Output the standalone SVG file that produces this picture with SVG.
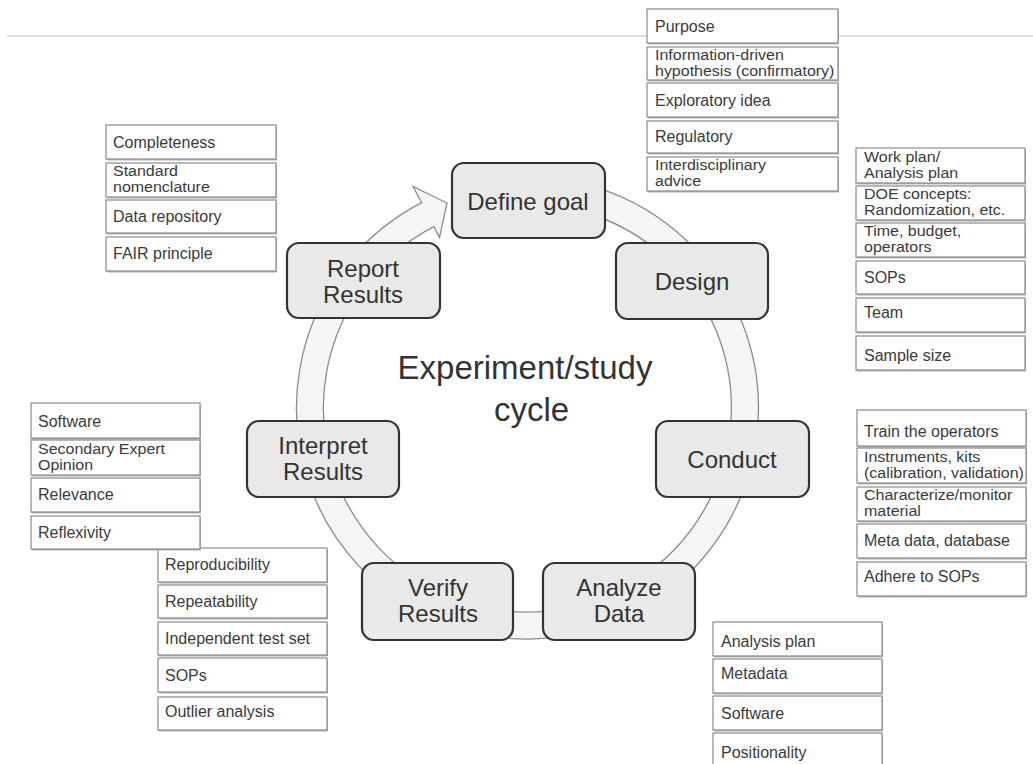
<svg xmlns="http://www.w3.org/2000/svg" width="1033" height="764" viewBox="0 0 1033 764">
<style>
.node rect{fill:#e9e9e9;stroke:#333;stroke-width:2.2}
.node text{font-family:"Liberation Sans",Arial,sans-serif;font-size:24px;fill:#333;text-anchor:middle}
.sb .sh{fill:#b3b3b3}
.sb .bx{fill:#fff;stroke:#8a8a8a;stroke-width:1.2}
.sb text{font-family:"Liberation Sans",Arial,sans-serif;font-size:16px;fill:#3a3a3a}
.sb text.two{font-size:14px}
.title{font-family:"Liberation Sans",Arial,sans-serif;font-size:33px;fill:#333}
</style>
<rect width="1033" height="764" fill="#fff"/>
<line x1="7" y1="36" x2="1033" y2="36" stroke="#bdbdbd" stroke-width="1.2"/>

<g id="connectors">
<path d="M 587.3 184.9 A 231 231 0 1 1 421.6 202.7 L 413 186.5 L 447 203 L 439.5 237.5 L 433.9 226.7 A 204 204 0 1 0 580.3 211 Z" fill="#f5f5f5" stroke="#8c8c8c" stroke-width="1.3"/>
</g>

<text class="title" x="525" y="379" text-anchor="middle">Experiment/study</text>
<text class="title" x="494" y="421">cycle</text>

<g id="node-define-goal" class="node"><rect x="452" y="163" width="153" height="75" rx="12"/><text x="528" y="210">Define goal</text></g>
<g id="node-design" class="node"><rect x="616" y="243" width="152" height="76" rx="12"/><text x="692" y="290">Design</text></g>
<g id="node-conduct" class="node"><rect x="656" y="421" width="153" height="76" rx="12"/><text x="732" y="468">Conduct</text></g>
<g id="node-analyze-data" class="node"><rect x="543" y="563" width="152" height="77" rx="12"/><text x="619" y="596">Analyze</text><text x="619" y="622">Data</text></g>
<g id="node-verify-results" class="node"><rect x="362" y="563" width="151" height="77" rx="12"/><text x="438" y="596">Verify</text><text x="438" y="622">Results</text></g>
<g id="node-interpret-results" class="node"><rect x="247" y="421" width="152" height="76" rx="12"/><text x="323" y="454">Interpret</text><text x="323" y="480">Results</text></g>
<g id="node-report-results" class="node"><rect x="287" y="243" width="153" height="75" rx="12"/><text x="363" y="277">Report</text><text x="363" y="303">Results</text></g>

<!-- Define goal details -->
<g id="dg-purpose" class="sb"><rect class="sh" x="648" y="10.5" width="191" height="34"/><rect class="bx" x="647" y="9" width="191" height="34"/><text x="655" y="32">Purpose</text></g>
<g id="dg-info" class="sb"><rect class="sh" x="648" y="48.5" width="191" height="33"/><rect class="bx" x="647" y="47" width="191" height="33"/><g transform="matrix(1.143 0 0 1 -93.67 0)"><text class="two" x="655" y="60">Information-driven</text><text class="two" x="655" y="76">hypothesis (confirmatory)</text></g></g>
<g id="dg-explor" class="sb"><rect class="sh" x="648" y="84.5" width="191" height="34"/><rect class="bx" x="647" y="83" width="191" height="34"/><text x="655" y="106">Exploratory idea</text></g>
<g id="dg-regul" class="sb"><rect class="sh" x="648" y="122.5" width="191" height="32"/><rect class="bx" x="647" y="121" width="191" height="32"/><text x="655" y="142">Regulatory</text></g>
<g id="dg-interdis" class="sb"><rect class="sh" x="648" y="158.5" width="191" height="34"/><rect class="bx" x="647" y="157" width="191" height="34"/><g transform="matrix(1.143 0 0 1 -93.67 0)"><text class="two" x="655" y="170.5">Interdisciplinary</text><text class="two" x="655" y="186.5">advice</text></g></g>

<!-- Design details -->
<g id="ds-workplan" class="sb"><rect class="sh" x="857" y="149.5" width="169" height="35"/><rect class="bx" x="856" y="148" width="169" height="35"/><g transform="matrix(1.143 0 0 1 -123.55 0)"><text class="two" x="864" y="162">Work plan/</text><text class="two" x="864" y="178">Analysis plan</text></g></g>
<g id="ds-doe" class="sb"><rect class="sh" x="857" y="187.5" width="169" height="34"/><rect class="bx" x="856" y="186" width="169" height="34"/><g transform="matrix(1.143 0 0 1 -123.55 0)"><text class="two" x="864" y="199.5">DOE concepts:</text><text class="two" x="864" y="215.5">Randomization, etc.</text></g></g>
<g id="ds-time" class="sb"><rect class="sh" x="857" y="224.5" width="169" height="34"/><rect class="bx" x="856" y="223" width="169" height="34"/><g transform="matrix(1.143 0 0 1 -123.55 0)"><text class="two" x="864" y="236.5">Time, budget,</text><text class="two" x="864" y="252.5">operators</text></g></g>
<g id="ds-sops" class="sb"><rect class="sh" x="857" y="262.5" width="169" height="33"/><rect class="bx" x="856" y="261" width="169" height="33"/><text x="864" y="283">SOPs</text></g>
<g id="ds-team" class="sb"><rect class="sh" x="857" y="299.5" width="169" height="34"/><rect class="bx" x="856" y="298" width="169" height="34"/><text x="864" y="318">Team</text></g>
<g id="ds-sample" class="sb"><rect class="sh" x="857" y="337.5" width="169" height="34"/><rect class="bx" x="856" y="336" width="169" height="34"/><text x="864" y="361">Sample size</text></g>

<!-- Conduct details -->
<g id="cd-train" class="sb"><rect class="sh" x="858" y="411.5" width="169" height="36"/><rect class="bx" x="857" y="410" width="169" height="36"/><text x="864" y="437">Train the operators</text></g>
<g id="cd-instr" class="sb"><rect class="sh" x="858" y="449.5" width="169" height="35"/><rect class="bx" x="857" y="448" width="169" height="35"/><g transform="matrix(1.143 0 0 1 -123.55 0)"><text class="two" x="864" y="462">Instruments, kits</text><text class="two" x="864" y="478">(calibration, validation)</text></g></g>
<g id="cd-charac" class="sb"><rect class="sh" x="858" y="488.5" width="169" height="34"/><rect class="bx" x="857" y="487" width="169" height="34"/><g transform="matrix(1.143 0 0 1 -123.55 0)"><text class="two" x="864" y="500.5">Characterize/monitor</text><text class="two" x="864" y="516.5">material</text></g></g>
<g id="cd-meta" class="sb"><rect class="sh" x="858" y="525.5" width="169" height="34"/><rect class="bx" x="857" y="524" width="169" height="34"/><text x="864" y="546">Meta data, database</text></g>
<g id="cd-adhere" class="sb"><rect class="sh" x="858" y="563.5" width="169" height="34"/><rect class="bx" x="857" y="562" width="169" height="34"/><text x="864" y="582">Adhere to SOPs</text></g>

<!-- Analyze details -->
<g id="ad-plan" class="sb"><rect class="sh" x="714" y="623.5" width="169" height="34"/><rect class="bx" x="713" y="622" width="169" height="34"/><text x="721" y="647">Analysis plan</text></g>
<g id="ad-meta" class="sb"><rect class="sh" x="714" y="660.5" width="169" height="34"/><rect class="bx" x="713" y="659" width="169" height="34"/><text x="721" y="679">Metadata</text></g>
<g id="ad-soft" class="sb"><rect class="sh" x="714" y="697.5" width="169" height="34"/><rect class="bx" x="713" y="696" width="169" height="34"/><text x="721" y="719">Software</text></g>
<g id="ad-pos" class="sb"><rect class="sh" x="714" y="734.5" width="169" height="36"/><rect class="bx" x="713" y="733" width="169" height="36"/><text x="721" y="758">Positionality</text></g>

<!-- Verify details -->
<g id="vr-repro" class="sb"><rect class="sh" x="159" y="549.5" width="169" height="34"/><rect class="bx" x="158" y="548" width="169" height="34"/><text x="165" y="570">Reproducibility</text></g>
<g id="vr-repeat" class="sb"><rect class="sh" x="159" y="586.5" width="169" height="33"/><rect class="bx" x="158" y="585" width="169" height="33"/><text x="165" y="607">Repeatability</text></g>
<g id="vr-indep" class="sb"><rect class="sh" x="159" y="623.5" width="169" height="33"/><rect class="bx" x="158" y="622" width="169" height="33"/><text x="165" y="644">Independent test set</text></g>
<g id="vr-sops" class="sb"><rect class="sh" x="159" y="659.5" width="169" height="34"/><rect class="bx" x="158" y="658" width="169" height="34"/><text x="165" y="681">SOPs</text></g>
<g id="vr-outlier" class="sb"><rect class="sh" x="159" y="698.5" width="169" height="33"/><rect class="bx" x="158" y="697" width="169" height="33"/><text x="165" y="717">Outlier analysis</text></g>

<!-- Interpret details -->
<g id="ir-soft" class="sb"><rect class="sh" x="32" y="404.5" width="169" height="35"/><rect class="bx" x="31" y="403" width="169" height="35"/><text x="38" y="427">Software</text></g>
<g id="ir-second" class="sb"><rect class="sh" x="32" y="441.5" width="169" height="35"/><rect class="bx" x="31" y="440" width="169" height="35"/><g transform="matrix(1.143 0 0 1 -5.43 0)"><text class="two" x="38" y="454">Secondary Expert</text><text class="two" x="38" y="470">Opinion</text></g></g>
<g id="ir-relev" class="sb"><rect class="sh" x="32" y="479.5" width="169" height="34"/><rect class="bx" x="31" y="478" width="169" height="34"/><text x="38" y="500">Relevance</text></g>
<g id="ir-reflex" class="sb"><rect class="sh" x="32" y="517.5" width="169" height="33"/><rect class="bx" x="31" y="516" width="169" height="33"/><text x="38" y="538">Reflexivity</text></g>

<!-- Report details -->
<g id="rp-compl" class="sb"><rect class="sh" x="107" y="126.5" width="170" height="34"/><rect class="bx" x="106" y="125" width="170" height="34"/><text x="113" y="148">Completeness</text></g>
<g id="rp-std" class="sb"><rect class="sh" x="107" y="164.5" width="170" height="34"/><rect class="bx" x="106" y="163" width="170" height="34"/><g transform="matrix(1.143 0 0 1 -16.16 0)"><text class="two" x="113" y="176.5">Standard</text><text class="two" x="113" y="192.5">nomenclature</text></g></g>
<g id="rp-repo" class="sb"><rect class="sh" x="107" y="201.5" width="170" height="33"/><rect class="bx" x="106" y="200" width="170" height="33"/><text x="113" y="222">Data repository</text></g>
<g id="rp-fair" class="sb"><rect class="sh" x="107" y="238.5" width="170" height="34"/><rect class="bx" x="106" y="237" width="170" height="34"/><text x="113" y="259">FAIR principle</text></g>
</svg>
